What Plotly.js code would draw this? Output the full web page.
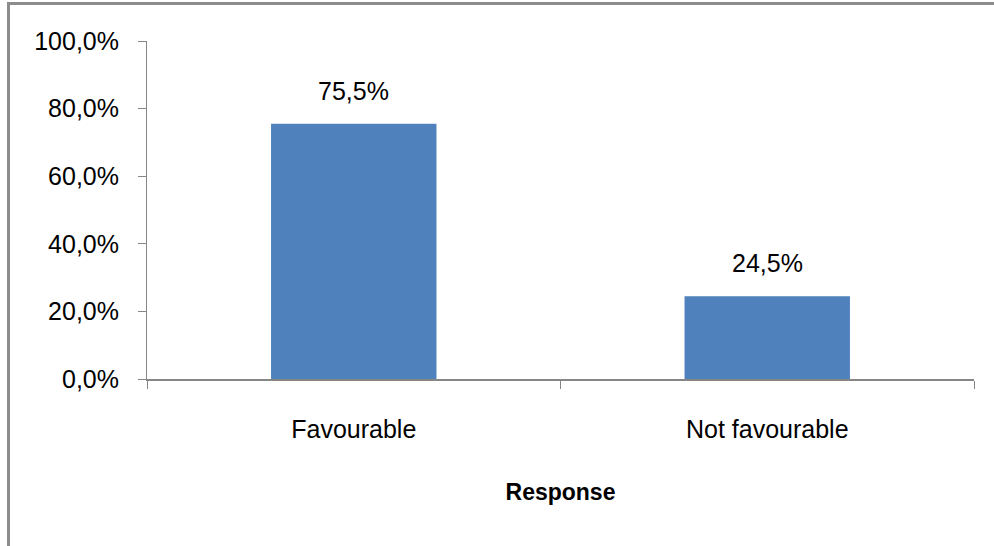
<!DOCTYPE html>
<html>
<head>
<meta charset="utf-8">
<script src="https://cdn.plot.ly/plotly-3.0.1.min.js"></script>
<style>
  html, body { margin: 0; padding: 0; background: #ffffff; }
  #wrap { position: relative; width: 994px; height: 546px; overflow: hidden; }
  #chart { position: absolute; left: 0; top: 0; width: 994px; height: 546px; }
  #frame {
    position: absolute; left: 7px; top: 2px; width: 1000px; height: 600px;
    border-top: 3px solid #8c8c8c; border-left: 3px solid #8c8c8c;
    pointer-events: none;
  }
</style>
</head>
<body>
<div id="wrap">
  <div id="chart"></div>
  <div id="frame"></div>
</div>
<script>
// Share of responses per category
const categories = ["Favourable", "Not favourable"];
const shares = [0.755, 0.245];
const yTickValues = [0, 0.2, 0.4, 0.6, 0.8, 1.0];

const axisGrey = "#868686";
const font = { family: "Liberation Sans, Arial, sans-serif", size: 25, color: "#000000" };

const trace = {
  type: "bar",
  x: categories,
  y: shares,
  width: 0.4,
  marker: { color: "#4F81BD", line: { width: 0 } },
  hoverinfo: "none"
};

// Value labels above each bar, formatted from the same numbers
const labels = categories.map((c, i) => ({
  x: c,
  y: shares[i],
  xref: "x",
  yref: "y",
  text: (shares[i] * 100).toFixed(1).replace(".", ",") + "%",
  showarrow: false,
  yanchor: "bottom",
  yshift: 17,
  font: font
}));

const layout = {
  width: 994,
  height: 546,
  margin: { l: 147, r: 20, t: 41, b: 167 },
  paper_bgcolor: "#ffffff",
  plot_bgcolor: "#ffffff",
  separators: ",.",
  showlegend: false,
  font: font,
  xaxis: {
    type: "category",
    showgrid: false,
    zeroline: false,
    showline: true,
    linecolor: axisGrey,
    linewidth: 2,
    ticks: "outside",
    tickson: "boundaries",
    ticklen: 8,
    tickcolor: axisGrey,
    tickwidth: 1,
    ticklabelstandoff: 27,
    tickfont: font,
    title: {
      text: "<b>Response</b>",
      font: { family: "Liberation Sans, Arial, sans-serif", size: 23, color: "#000000" },
      standoff: 42
    }
  },
  yaxis: {
    range: [0, 1],
    tickvals: yTickValues,
    tickformat: ".1%",
    showgrid: false,
    zeroline: false,
    showline: true,
    linecolor: axisGrey,
    linewidth: 1,
    ticks: "outside",
    ticklen: 8,
    tickcolor: axisGrey,
    tickwidth: 1,
    ticklabelstandoff: 14,
    tickfont: font
  },
  annotations: labels
};

Plotly.newPlot("chart", [trace], layout, { staticPlot: true, displayModeBar: false });
</script>
</body>
</html>
